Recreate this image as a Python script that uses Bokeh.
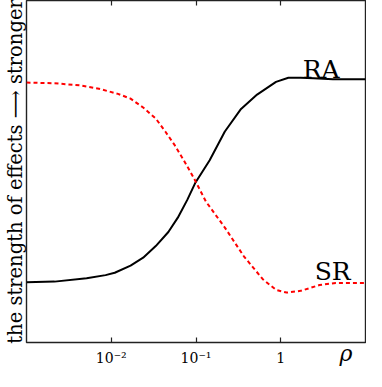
from bokeh.plotting import figure
from bokeh.models import Range1d, LogAxis, FixedTicker, ColumnDataSource, LogScale
from bokeh.core.properties import value
from bokeh.embed import file_html
from bokeh.resources import INLINE

# RA curve (rho, strength)
ra_rho = [0.001, 0.00214, 0.00512, 0.00857, 0.0110, 0.0169, 0.0238, 0.0335, 0.0472, 0.0610,
          0.0789, 0.0987, 0.145, 0.219, 0.340, 0.526, 0.879, 1.23, 1.72, 2.46, 4.12, 10.0]
ra_val = [0.176, 0.178, 0.188, 0.197, 0.204, 0.225, 0.248, 0.282, 0.323, 0.365,
          0.417, 0.468, 0.533, 0.617, 0.683, 0.725, 0.762, 0.774, 0.774, 0.773, 0.770, 0.770]

# SR curve (rho, strength)
sr_rho = [0.001, 0.00214, 0.00428, 0.00716, 0.0120, 0.0169, 0.0238, 0.0335, 0.0434, 0.0561,
          0.0725, 0.0938, 0.131, 0.219, 0.367, 0.614, 0.879, 1.17, 1.72, 2.87, 4.45, 10.0]
sr_val = [0.760, 0.758, 0.752, 0.742, 0.727, 0.713, 0.687, 0.655, 0.617, 0.577,
          0.531, 0.482, 0.412, 0.336, 0.252, 0.185, 0.154, 0.146, 0.151, 0.168, 0.174, 0.174]

tick_vals = [0.01, 0.1, 1]
tick_text = ["10\u207b\u00b2", "10\u207b\u00b9", "1"]

SERIF = "DejaVu Serif"

p = figure(width=366, height=371, x_axis_type=None,
           x_range=Range1d(0.001, 10), y_range=Range1d(0, 1),
           output_backend="svg", toolbar_location=None)
p.x_scale = LogScale()
p.min_border_left = 22
p.min_border_right = 1
p.min_border_top = 0
p.min_border_bottom = 29
p.grid.visible = False
p.background_fill_color = "white"
p.border_fill_color = "white"
p.outline_line_color = "#222222"
p.outline_line_width = 1.4
p.outline_line_alpha = 1

# bottom axis
xb = LogAxis(ticker=FixedTicker(ticks=tick_vals, minor_ticks=[]))
xb.major_label_overrides = {v: t for v, t in zip(tick_vals, tick_text)}
xb.major_label_text_font = SERIF
xb.major_label_text_font_size = "14px"
xb.major_label_text_color = "black"
xb.major_tick_in = 5
xb.major_tick_out = 0
xb.major_tick_line_color = "#222222"
xb.major_tick_line_width = 1.2
xb.minor_tick_line_color = None
xb.axis_line_color = None
xb.major_label_standoff = 7
xb.axis_label = "\u2003" * 13 + "\u00a0\u00a0" + "\u03c1"
xb.axis_label_text_font = SERIF
xb.axis_label_text_font_size = "22px"
xb.axis_label_text_font_style = "italic"
xb.axis_label_text_color = "black"
xb.axis_label_standoff = -28
p.add_layout(xb, "below")

# top axis (ticks only)
xt = LogAxis(ticker=FixedTicker(ticks=tick_vals, minor_ticks=[]))
xt.major_label_overrides = {v: "" for v in tick_vals}
xt.major_label_text_font_size = "0px"
xt.major_label_standoff = 0
xt.major_tick_in = 5
xt.major_tick_out = 0
xt.major_tick_line_color = "#222222"
xt.major_tick_line_width = 1.2
xt.minor_tick_line_color = None
xt.axis_line_color = None
p.add_layout(xt, "above")

# left axis: label only
ya = p.yaxis[0]
ya.ticker = FixedTicker(ticks=[])
ya.major_tick_line_color = None
ya.minor_tick_line_color = None
ya.major_label_text_font_size = "0px"
ya.axis_line_color = None
ya.axis_label = "the strength of effects \u27f6 stronger"
ya.axis_label_text_font = SERIF
ya.axis_label_text_font_size = "19.5px"
ya.axis_label_text_font_style = "normal"
ya.axis_label_text_color = "black"
ya.axis_label_standoff = 0
ya.major_label_standoff = 0

src_ra = ColumnDataSource(dict(x=ra_rho, y=ra_val))
src_sr = ColumnDataSource(dict(x=sr_rho, y=sr_val))
p.line("x", "y", source=src_ra, line_color="black", line_width=2, line_join="round")
p.line("x", "y", source=src_sr, line_color="#ff0000", line_width=2, line_dash="4 3",
       line_join="round")

p.text(x=[3.0], y=[0.798], text=["RA"], text_font=value(SERIF), text_font_size="25px",
       text_align="center", text_baseline="alphabetic", text_color="black")
p.text(x=[4.1], y=[0.207], text=["SR"], text_font=value(SERIF), text_font_size="25px",
       text_align="center", text_baseline="alphabetic", text_color="black")

open("out.html", "w").write(file_html(p, INLINE))
